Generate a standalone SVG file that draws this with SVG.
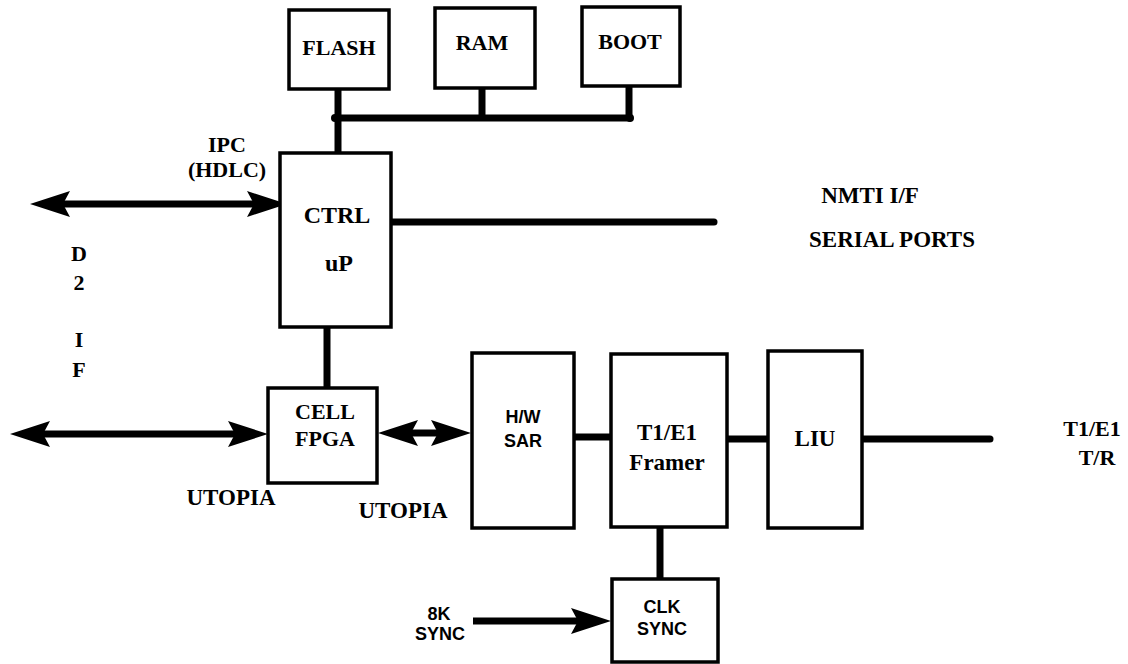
<svg xmlns="http://www.w3.org/2000/svg" width="1128" height="664" viewBox="0 0 1128 664">
<style>
.box{fill:#fff;stroke:#000;stroke-width:3.5}
.ln{stroke:#000;stroke-width:7;fill:none}
.rl{stroke:#000;stroke-width:7;fill:none;stroke-linecap:round}
.t{font-family:'Liberation Serif','DejaVu Serif',serif;font-weight:bold;font-size:22px;text-anchor:middle;fill:#000}
.a{font-family:'Liberation Sans','DejaVu Sans',sans-serif;font-weight:bold;font-size:18px;text-anchor:middle;fill:#000}
</style>
<defs>
<marker id="ah" markerUnits="userSpaceOnUse" orient="auto-start-reverse" refX="8" refY="0" markerWidth="50" markerHeight="30" style="overflow:visible">
<path d="M0,-13 L40,0 L0,13 L7,0 Z" fill="#000"/>
</marker>
</defs>
<rect width="1128" height="664" fill="#fff"/>
<g id="connectors">
<line class="ln" x1="335" y1="118" x2="631" y2="118"/>
<circle cx="335" cy="118" r="4"/>
<circle cx="630" cy="118" r="4"/>
<line class="ln" x1="338" y1="89" x2="338" y2="153"/>
<line class="ln" x1="482" y1="88" x2="482" y2="120"/>
<line class="ln" x1="629" y1="86" x2="629" y2="118"/>
<line class="rl" x1="391" y1="222" x2="714" y2="222"/>
<line class="ln" x1="327" y1="327" x2="327" y2="388"/>
<line class="ln" x1="62" y1="204" x2="255" y2="204" marker-start="url(#ah)" marker-end="url(#ah)"/>
<line class="ln" x1="42" y1="434" x2="236" y2="434" marker-start="url(#ah)" marker-end="url(#ah)"/>
<line class="ln" x1="410" y1="433" x2="439" y2="433" marker-start="url(#ah)" marker-end="url(#ah)"/>
<line class="ln" x1="574" y1="437" x2="611" y2="437"/>
<line class="ln" x1="727" y1="439" x2="768" y2="439"/>
<line class="rl" x1="862" y1="439" x2="990" y2="439"/>
<line class="ln" x1="660" y1="527" x2="660" y2="579"/>
<line class="ln" x1="473" y1="621" x2="579" y2="621" marker-end="url(#ah)"/>
</g>
<g id="flash"><rect class="box" x="289" y="10" width="100" height="79"/><text class="t" font-family="Liberation Serif" x="339" y="55">FLASH</text></g>
<g id="ram"><rect class="box" x="435" y="8" width="100" height="80"/><text class="t" font-family="Liberation Serif" x="482" y="50">RAM</text></g>
<g id="boot"><rect class="box" x="582" y="7" width="98" height="79"/><text class="t" font-family="Liberation Serif" x="630" y="49">BOOT</text></g>
<g id="ctrl"><rect class="box" x="280" y="153" width="111" height="174"/><text class="t" font-family="Liberation Serif" x="337" y="223" style="font-size:24px">CTRL</text><text class="t" font-family="Liberation Serif" x="339" y="271" style="font-size:24px">uP</text></g>
<g id="ipc-label" font-family="Liberation Serif"><text class="t" x="227" y="152">IPC</text><text class="t" x="227" y="177">(HDLC)</text></g>
<g id="d2if-label" font-family="Liberation Serif"><text class="t" x="79" y="261">D</text><text class="t" x="79" y="290">2</text><text class="t" x="79" y="347">I</text><text class="t" x="79" y="377">F</text></g>
<g id="nmti-label" font-family="Liberation Serif"><text class="t" x="870" y="203" style="font-size:23px">NMTI I/F</text><text class="t" x="892" y="247" style="font-size:23px">SERIAL PORTS</text></g>
<g id="fpga" font-family="Liberation Serif"><rect class="box" x="268" y="388" width="109" height="95"/><text class="t" x="325" y="419">CELL</text><text class="t" x="325" y="446">FPGA</text></g>
<g id="utopia-labels" font-family="Liberation Serif"><text class="t" x="231" y="505" style="font-size:23px">UTOPIA</text><text class="t" x="403" y="518" style="font-size:23px">UTOPIA</text></g>
<g id="sar"><rect class="box" x="472" y="353" width="102" height="175"/><text class="a" x="523" y="423">H/W</text><text class="a" x="523" y="447">SAR</text></g>
<g id="framer" font-family="Liberation Serif"><rect class="box" x="611" y="354" width="116" height="173"/><text class="t" x="667" y="440" style="font-size:23px">T1/E1</text><text class="t" x="667" y="470" style="font-size:23px">Framer</text></g>
<g id="liu" font-family="Liberation Serif"><rect class="box" x="768" y="351" width="94" height="177"/><text class="t" x="815" y="446" style="font-size:23px">LIU</text></g>
<g id="t1e1-label" font-family="Liberation Serif"><text class="t" x="1092" y="436">T1/E1</text><text class="t" x="1097" y="465">T/R</text></g>
<g id="clk"><rect class="box" x="612" y="579" width="106" height="83"/><text class="a" x="662" y="613">CLK</text><text class="a" x="662" y="635">SYNC</text></g>
<g id="sync-label"><text class="a" x="439" y="620">8K</text><text class="a" x="440" y="640">SYNC</text></g>
</svg>
